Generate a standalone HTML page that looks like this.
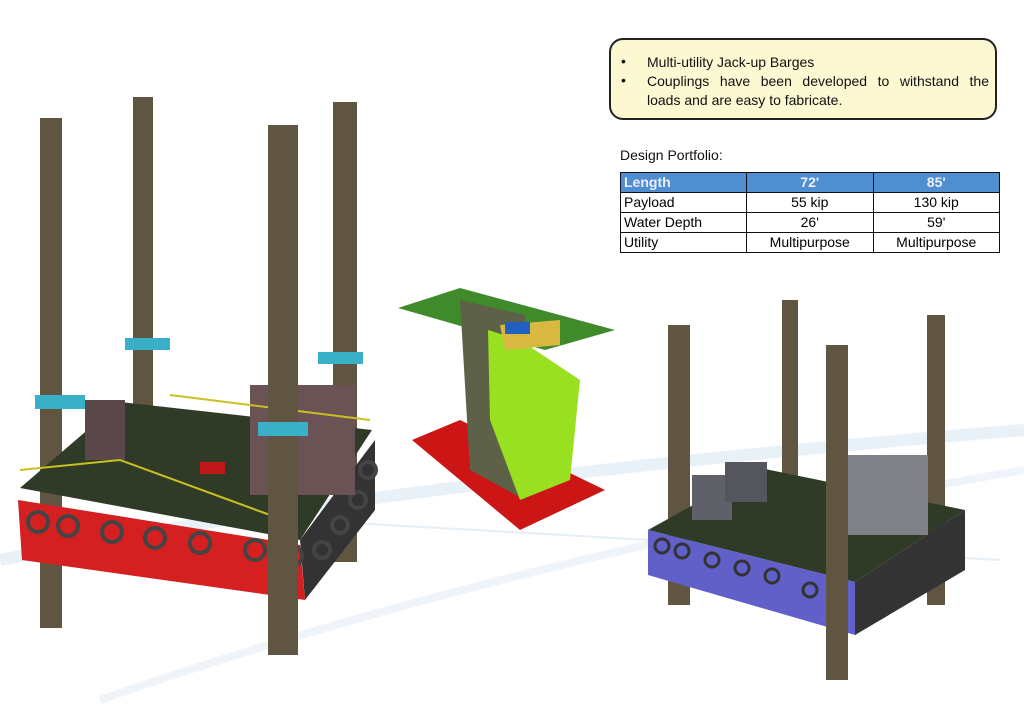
<!DOCTYPE html>
<html><head><style>
body{margin:0;width:1024px;height:723px;background:#fff;position:relative;overflow:hidden;font-family:"Liberation Sans",sans-serif}
.box{position:absolute;left:609px;top:38px;width:388px;height:82px;background:#fbf8d2;border:2px solid #222;border-radius:14px;box-sizing:border-box;font-size:14px;color:#111}
.box div{position:absolute;left:36px;line-height:19px}
.box span{position:absolute;left:10px}
.dp{position:absolute;left:620px;top:147px;font-size:14px;color:#111}
table{position:absolute;left:620px;top:172px;border-collapse:collapse;font-size:14px;width:380px}
td{border:1.5px solid #111;height:19px;padding:0 3px;line-height:19px;text-align:center}
td:first-child{text-align:left;width:119px}
tr.h td{background:#4f8ed0;color:#eef;font-weight:bold}
</style></head><body>
<svg width="1024" height="723" style="position:absolute;left:0;top:0">
<path d="M0 560 Q400 480 1024 430" stroke="#e8f1f8" stroke-width="12" fill="none"/>
<path d="M100 700 Q500 560 1024 470" stroke="#eef4fa" stroke-width="8" fill="none"/>
<path d="M300 520 L1000 560" stroke="#e6eef6" stroke-width="2" fill="none"/>
<!-- left barge -->
<rect x="40" y="118" width="22" height="510" fill="#5f5540"/>
<rect x="133" y="97" width="20" height="330" fill="#5f5540"/>
<rect x="333" y="102" width="24" height="460" fill="#5f5540"/>
<polygon points="20,488 120,402 372,430 300,540" fill="#2f3b27"/>
<polygon points="300,540 375,440 375,510 305,600" fill="#333"/>
<polygon points="18,500 300,545 305,600 22,560" fill="#d42020"/>
<g fill="none" stroke="#444" stroke-width="4">
<circle cx="38" cy="522" r="10"/><circle cx="68" cy="526" r="10"/><circle cx="112" cy="532" r="10"/><circle cx="155" cy="538" r="10"/><circle cx="200" cy="543" r="10"/><circle cx="255" cy="550" r="10"/><circle cx="292" cy="556" r="10"/>
<circle cx="322" cy="550" r="8"/><circle cx="340" cy="525" r="8"/><circle cx="358" cy="500" r="8"/><circle cx="368" cy="470" r="8"/></g>
<rect x="250" y="385" width="105" height="110" fill="#6a5255"/>
<rect x="85" y="400" width="40" height="60" fill="#5a484a"/>
<rect x="200" y="462" width="25" height="12" fill="#c01818"/>
<path d="M20 470 L120 460 L270 515 M170 395 L370 420" stroke="#c8c020" stroke-width="2" fill="none"/>
<rect x="268" y="125" width="30" height="530" fill="#5f5540"/>
<g fill="#3ab0c8"><rect x="35" y="395" width="50" height="14"/><rect x="125" y="338" width="45" height="12"/><rect x="258" y="422" width="50" height="14"/><rect x="318" y="352" width="45" height="12"/></g>
<!-- middle part -->
<polygon points="398,308 460,288 615,330 545,350" fill="#3f8a2a"/>
<polygon points="412,440 460,420 605,490 520,530" fill="#cc1515"/>
<polygon points="460,300 525,315 525,500 470,470" fill="#5c6148"/>
<polygon points="488,330 520,340 580,380 570,480 520,500 490,420" fill="#99e020"/>
<polygon points="500,325 560,320 560,345 505,350" fill="#d8b840"/>
<rect x="505" y="322" width="25" height="12" fill="#2060c0"/>
<!-- right barge -->
<rect x="668" y="325" width="22" height="280" fill="#5f5540"/>
<rect x="782" y="300" width="16" height="190" fill="#5f5540"/>
<rect x="927" y="315" width="18" height="290" fill="#5f5540"/>
<polygon points="648,530 760,468 965,510 855,582" fill="#2f3b27"/>
<polygon points="855,582 965,510 965,570 855,635" fill="#333"/>
<polygon points="648,530 855,582 855,635 648,575" fill="#6060c8"/>
<g fill="none" stroke="#333" stroke-width="3">
<circle cx="662" cy="546" r="7"/><circle cx="682" cy="551" r="7"/><circle cx="712" cy="560" r="7"/><circle cx="742" cy="568" r="7"/><circle cx="772" cy="576" r="7"/><circle cx="810" cy="590" r="7"/><circle cx="838" cy="598" r="7"/>
<circle cx="870" cy="590" r="7"/><circle cx="895" cy="572" r="7"/><circle cx="920" cy="552" r="7"/><circle cx="945" cy="532" r="7"/></g>
<rect x="848" y="455" width="80" height="80" fill="#808088"/>
<rect x="692" y="475" width="40" height="45" fill="#606068"/>
<rect x="725" y="462" width="42" height="40" fill="#55555d"/>
<rect x="826" y="345" width="22" height="335" fill="#5f5540"/>
</svg>
<div class="box"><span style="top:13px">•</span><div style="top:13px">Multi-utility Jack-up Barges</div><span style="top:32px">•</span><div style="top:32px;width:342px;text-align:justify;text-align-last:justify">Couplings have been developed to withstand the</div><div style="top:51px">loads and are easy to fabricate.</div></div>
<div class="dp">Design Portfolio:</div>
<table>
<tr class="h"><td>Length</td><td>72'</td><td>85'</td></tr>
<tr><td>Payload</td><td>55 kip</td><td>130 kip</td></tr>
<tr><td>Water Depth</td><td>26'</td><td>59'</td></tr>
<tr><td>Utility</td><td>Multipurpose</td><td>Multipurpose</td></tr>
</table>
</body></html>
